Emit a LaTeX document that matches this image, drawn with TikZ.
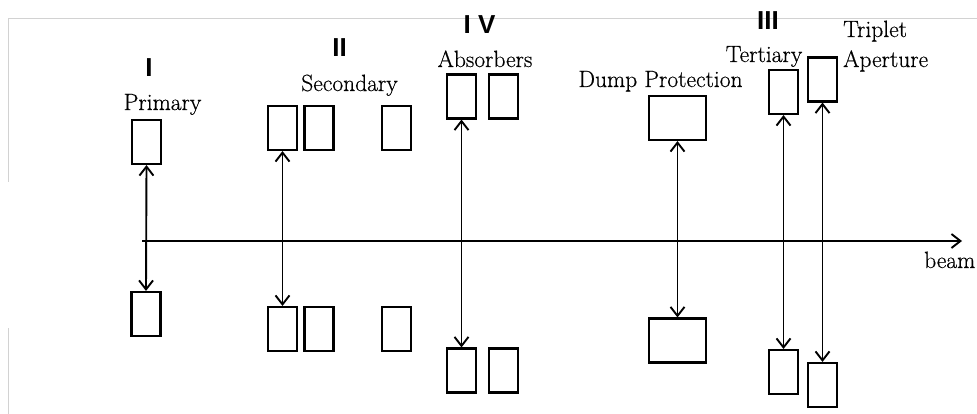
\documentclass[tikz,border=0pt]{standalone}
\usepackage{fontspec}
\newfontfamily\romfont{Liberation Sans}
\newfontfamily\tagfont{Latin Modern Roman}[FakeBold=0.5]
\usetikzlibrary{arrows.meta}

\begin{document}
\begin{tikzpicture}[
    x=1pt, y=-1pt,
    >={Straight Barb[length=9pt,width=14pt]},
    every node/.style={inner sep=0pt},
    coll/.style={
      draw,
      line width=2.1pt,
      minimum width=29pt,
      minimum height=44pt
    },
    wide/.style={coll, minimum width=57pt},
    lbl/.style={font=\tagfont\fontsize{23.5}{27}\selectfont, anchor=base},
    num/.style={font=\romfont\bfseries\fontsize{26}{30}\selectfont},
    gap/.style={<->, line width=1.9pt}
  ]
  \useasboundingbox (0,0) rectangle (977,414);

  % Frame
  \draw[gray!35, line width=0.8pt] (977,18) -- (8,18) -- (8,182);
  \draw[gray!35, line width=0.8pt] (8,328) -- (8,414);

  % Beam
  \coordinate (b0) at (142,241);
  \coordinate (b1) at (962,241);
  \draw[->, line width=1.9pt] (b0) -- (b1);
  \node[lbl, anchor=base west] (beam) at (924,268) {beam};

  % Primary
  \node[coll] (pu) at (146.5,142) {};
  \node[coll] (pd) at (146,314) {};
  \node[num] (n1) at (149,67.5) {I};
  \node[lbl] (prim) at (162.5,110) {Primary};

  % Secondary
  \node[coll] (s1u) at (282.5,128) {};
  \node[coll] (s2u) at (319,128) {};
  \node[coll] (s3u) at (396.5,128) {};
  \node[coll] (s1d) at (282.5,329) {};
  \node[coll] (s2d) at (319,329) {};
  \node[coll] (s3d) at (396.5,329) {};
  \node[num] (n2) at (339.5,47.5) {II};
  \node[lbl] (sec) at (349.5,91) {Secondary};

  % Absorbers
  \node[coll] (a1u) at (461.5,96.5) {};
  \node[coll] (a2u) at (503.5,96.5) {};
  \node[coll] (a1d) at (461.5,370.5) {};
  \node[coll] (a2d) at (503.5,370.5) {};
  \node[num] (n4) at (479.5,24.5) {I V};
  \node[lbl] (abs) at (485,67) {Absorbers};

  % Dump protection
  \node[wide] (du) at (677.5,118) {};
  \node[wide] (dd) at (677.5,340.5) {};
  \node[lbl] (dump) at (660.5,87) {Dump Protection};

  % Tertiary
  \node[coll] (tu) at (783.5,92) {};
  \node[coll] (td) at (783.5,372) {};
  \node[num] (n3) at (768,21) {III};
  \node[lbl] (ter) at (764,62) {Tertiary};

  % Triplet aperture
  \node[coll] (xu) at (822.5,79.5) {};
  \node[coll] (xd) at (822.5,385) {};
  \node[lbl, anchor=base west] (trip) at (843,37) {Triplet};
  \node[lbl, anchor=base west] (aper) at (843,67) {Aperture};

  % Gaps
  \draw[gap] (pu.south) -- (pd.north);
  \draw[gap] (s1u.south) -- (s1d.north);
  \draw[gap] (a1u.south) -- (a1d.north);
  \draw[gap] (du.south) -- (dd.north);
  \draw[gap] (tu.south) -- (td.north);
  \draw[gap] (xu.south) -- (xd.north);

\end{tikzpicture}
\end{document}
